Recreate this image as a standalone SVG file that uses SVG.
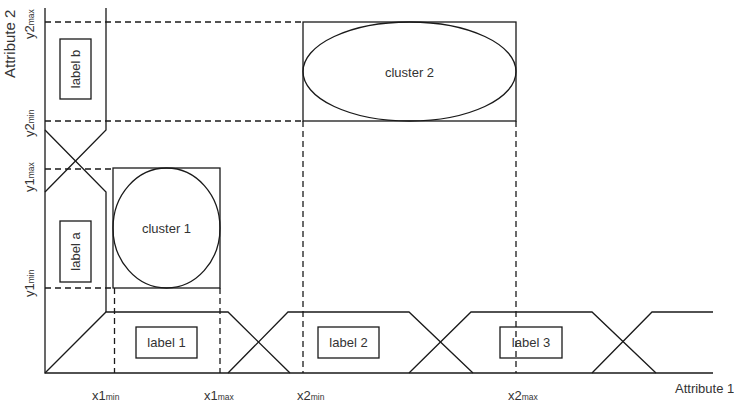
<svg xmlns="http://www.w3.org/2000/svg" width="734" height="412" viewBox="0 0 734 412">
<style>
.ln{fill:none;stroke:#1a1a1a;stroke-width:1.3}
.ds{fill:none;stroke:#1a1a1a;stroke-width:1.3;stroke-dasharray:6 4}
.bx{fill:#fff;stroke:#1a1a1a;stroke-width:1.3}
text{font-family:"Liberation Sans",Arial,sans-serif;font-size:13px;fill:#333}
.m{text-anchor:middle}
.s{font-size:8.5px}
</style>
<rect width="734" height="412" fill="#fff"/>
<g id="connectors">
<!-- axes -->
<polyline class="ln" points="45,8 45,373 713,373"/>
<!-- vertical membership functions -->
<polyline class="ln" points="106,8 106,130 45,192"/>
<polyline class="ln" points="45,130 106,192 106,312"/>
<!-- horizontal membership functions -->
<polyline class="ln" points="45,373 106,312 228,312 290,373"/>
<polyline class="ln" points="228,373 288,312 409,312 473,373"/>
<polyline class="ln" points="409,373 471,312 592,312 656,373"/>
<polyline class="ln" points="592,373 652,312 713,312"/>
<!-- dashed guides -->
<line class="ds" x1="45" y1="22" x2="303" y2="22"/>
<line class="ds" x1="45" y1="121" x2="303" y2="121"/>
<line class="ds" x1="45" y1="169" x2="113" y2="169"/>
<line class="ds" x1="45" y1="288" x2="113" y2="288"/>
<line class="ds" x1="114.5" y1="288" x2="114.5" y2="373"/>
<line class="ds" x1="220" y1="288" x2="220" y2="373"/>
<line class="ds" x1="303" y1="121" x2="303" y2="373"/>
<line class="ds" x1="516" y1="121" x2="516" y2="373"/>
</g>
<g id="cluster1">
<rect class="ln" x="113" y="168" width="107" height="120"/>
<ellipse class="ln" cx="166.5" cy="228" rx="53.5" ry="60"/>
<text class="m" x="166.5" y="233">cluster 1</text>
</g>
<g id="cluster2">
<rect class="ln" x="303" y="22" width="213" height="99"/>
<ellipse class="ln" cx="409.5" cy="71.5" rx="106.5" ry="49.5"/>
<text class="m" x="409.5" y="77">cluster 2</text>
</g>
<g id="label-b">
<rect class="bx" x="60" y="39" width="31" height="60"/>
<text class="m" transform="translate(80,69) rotate(-90)">label b</text>
</g>
<g id="label-a">
<rect class="bx" x="60" y="221" width="31" height="61"/>
<text class="m" transform="translate(80,251.5) rotate(-90)">label a</text>
</g>
<g id="label-1">
<rect class="bx" x="136" y="327" width="61" height="31"/>
<text class="m" x="166.5" y="347">label 1</text>
</g>
<g id="label-2">
<rect class="bx" x="318" y="327" width="61" height="31"/>
<text class="m" x="348.5" y="347">label 2</text>
</g>
<g id="label-3">
<rect class="bx" x="500" y="327" width="62" height="31" fill="none" style="fill:none"/>
<text class="m" x="531" y="347">label 3</text>
</g>
<g id="axis-labels">
<text x="675" y="393">Attribute 1</text>
<text transform="translate(15,78) rotate(-90)" style="font-size:15px">Attribute 2</text>
<text x="92" y="400">x1<tspan class="s">min</tspan></text>
<text x="204" y="400">x1<tspan class="s">max</tspan></text>
<text x="297" y="400">x2<tspan class="s">min</tspan></text>
<text x="508" y="400">x2<tspan class="s">max</tspan></text>
<text transform="translate(34,39) rotate(-90)">y2<tspan class="s">max</tspan></text>
<text transform="translate(34,137) rotate(-90)">y2<tspan class="s">min</tspan></text>
<text transform="translate(34,192) rotate(-90)">y1<tspan class="s">max</tspan></text>
<text transform="translate(34,297) rotate(-90)">y1<tspan class="s">min</tspan></text>
</g>
</svg>
